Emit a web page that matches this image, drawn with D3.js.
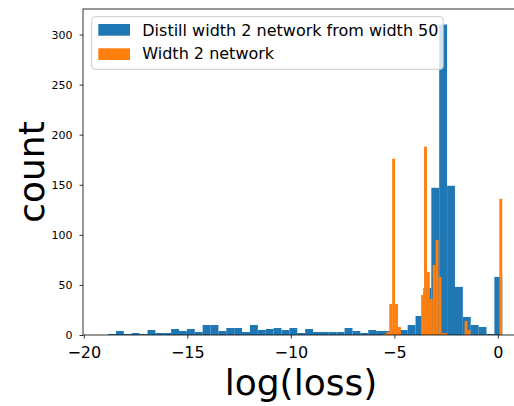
<!DOCTYPE html>
<html>
<head>
<meta charset="utf-8">
<script src="https://cdn.jsdelivr.net/npm/d3@7"></script>
<style>
  body { margin: 0; background: #fff; }
  text { font-family: "DejaVu Sans", sans-serif; }
</style>
</head>
<body>
<div id="chart"></div>
<script>
// histogram of log(loss) for two training setups

// blue: 50 equal bins over blueRange
const blueRange = [-18.83, 0.212];
const blueCounts = [
  1, 4, 1, 2, 1, 5, 2, 2, 6, 4,
  6, 3, 10, 10, 4, 7, 7, 3, 10, 5,
  6, 7, 5, 7, 2, 6, 3, 3, 3, 3,
  7, 4, 2, 5, 4, 4, 6, 5, 10, 19,
  47, 147, 310, 149, 48, 18, 10, 8, 1, 58
];

// orange: 41 equal bins over orangeRange
const orangeRange = [-5.526, 0.212];
const orangeCounts = [
  1, 3, 31, 176, 31, 8, 0, 0, 0, 0,
  0, 0, 0, 40, 188, 63, 36, 70, 95, 58,
  2, 2, 0, 0, 0, 0, 0, 0, 14, 5,
  0, 0, 0, 0, 0, 0, 0, 0, 0, 0,
  136
];

const xTicks = [-20, -15, -10, -5, 0];
const yTicks = [0, 50, 100, 150, 200, 250, 300];
const seriesNames = ['Distill width 2 network from width 50', 'Width 2 network'];
const colors = ['#1f77b4', '#ff7f0e'];

const width = 514, height = 406;
const plot = { left: 83, right: 519, top: 9, bottom: 335 };

const svg = d3.select('#chart').append('svg')
  .attr('width', width)
  .attr('height', height);

const x = d3.scaleLinear()
  .domain([-20.04, 1.02])
  .range([plot.left, plot.right]);

const y = d3.scaleLinear()
  .domain([0, 325.5])
  .range([plot.bottom, plot.top]);

// turn counts + range into bin objects
function makeBins(range, counts) {
  const w = (range[1] - range[0]) / counts.length;
  return counts.map((c, i) => ({ x0: range[0] + i * w, x1: range[0] + (i + 1) * w, count: c }));
}

const series = [makeBins(blueRange, blueCounts), makeBins(orangeRange, orangeCounts)];

const bars = svg.append('g');
series.forEach((bins, s) => {
  bars.append('g')
    .selectAll('rect')
    .data(bins.filter(d => d.count > 0))
    .join('rect')
    .attr('x', d => x(d.x0))
    .attr('y', d => y(d.count))
    .attr('width', d => x(d.x1) - x(d.x0))
    .attr('height', d => y(0) - y(d.count))
    .attr('fill', colors[s]);
});

// axes
const xAxis = svg.append('g')
  .attr('transform', `translate(0,${plot.bottom})`)
  .call(d3.axisBottom(x).tickValues(xTicks).tickSize(3.5).tickPadding(8));
xAxis.select('.domain').remove();
xAxis.selectAll('text').attr('font-size', 16).attr('font-family', 'DejaVu Sans').attr('fill', '#000');
xAxis.selectAll('line').attr('stroke', '#000').attr('stroke-width', 0.8);

const yAxis = svg.append('g')
  .attr('transform', `translate(${plot.left},0)`)
  .call(d3.axisLeft(y).tickValues(yTicks).tickSize(3.5).tickPadding(7));
yAxis.select('.domain').remove();
yAxis.selectAll('text').attr('font-size', 11).attr('font-family', 'DejaVu Sans').attr('fill', '#000');
yAxis.selectAll('line').attr('stroke', '#000').attr('stroke-width', 0.8);

// spines
svg.append('rect')
  .attr('x', plot.left)
  .attr('y', plot.top)
  .attr('width', plot.right - plot.left)
  .attr('height', plot.bottom - plot.top)
  .attr('fill', 'none')
  .attr('stroke', '#000')
  .attr('stroke-width', 0.8);

// axis labels
svg.append('text')
  .attr('x', (plot.left + plot.right) / 2)
  .attr('y', 395)
  .attr('text-anchor', 'middle')
  .attr('font-size', 36)
  .text('log(loss)');

svg.append('text')
  .attr('transform', `translate(44,${(plot.top + plot.bottom) / 2}) rotate(-90)`)
  .attr('text-anchor', 'middle')
  .attr('font-size', 36)
  .text('count');

// legend
const legend = svg.append('g');
legend.append('rect')
  .attr('x', 91.7)
  .attr('y', 16.7)
  .attr('width', 351.5)
  .attr('height', 52.6)
  .attr('rx', 3)
  .attr('fill', '#fff')
  .attr('fill-opacity', 0.8)
  .attr('stroke', '#cccccc')
  .attr('stroke-width', 1);

seriesNames.forEach((name, i) => {
  legend.append('rect')
    .attr('x', 98.3)
    .attr('y', 24 + i * 24.3)
    .attr('width', 31.7)
    .attr('height', 11.7)
    .attr('fill', colors[i]);
  legend.append('text')
    .attr('x', 142.3)
    .attr('y', 36 + i * 23.3)
    .attr('font-size', 16)
    .text(name);
});
</script>
</body>
</html>
